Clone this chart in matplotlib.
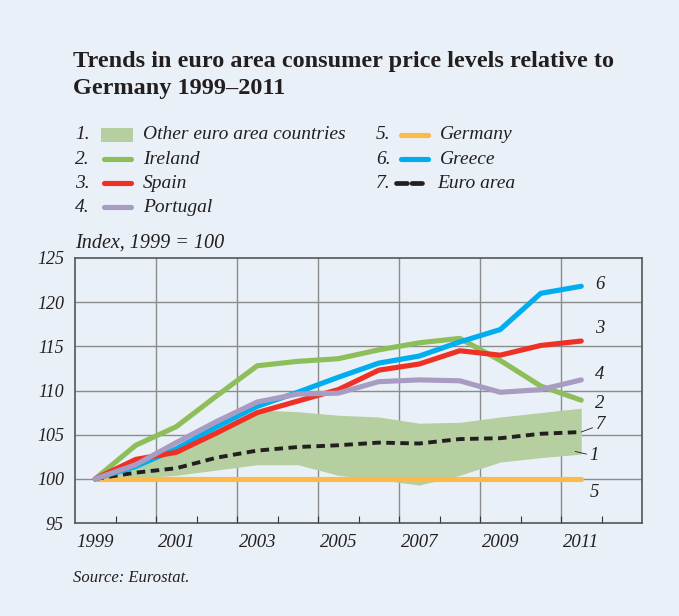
import matplotlib
matplotlib.use("Agg")
import matplotlib.pyplot as plt
from matplotlib.lines import Line2D
from matplotlib.patches import Rectangle

# Data (index, 1999 = 100)
years = [1999, 2000, 2001, 2002, 2003, 2004, 2005, 2006, 2007, 2008, 2009, 2010, 2011]
ireland = [100, 103.8, 105.9, 109.4, 112.8, 113.3, 113.6, 114.6, 115.4, 115.9, 113.4, 110.5, 108.9]
spain = [100, 102.2, 103.0, 105.2, 107.5, 108.8, 110.1, 112.3, 113.0, 114.5, 114.0, 115.1, 115.6]
portugal = [100, 101.6, 104.1, 106.5, 108.7, 109.6, 109.7, 111.0, 111.2, 111.1, 109.8, 110.1, 111.2]
germany = [100, 100, 100, 100, 100, 100, 100, 100, 100, 100, 100, 100, 100]
greece = [100, 101.4, 103.4, 105.9, 108.2, 109.8, 111.5, 113.1, 113.9, 115.5, 116.9, 121.0, 121.8]
euro_area = [100, 100.7, 101.2, 102.4, 103.2, 103.6, 103.8, 104.1, 104.0, 104.5, 104.6, 105.1, 105.3]
others_high = [100, 101.8, 103.6, 105.8, 107.8, 107.6, 107.2, 107.0, 106.3, 106.4, 107.0, 107.5, 108.0]
others_low = [100, 100.1, 100.4, 101.0, 101.6, 101.6, 100.4, 99.9, 99.3, 100.4, 101.9, 102.4, 102.8]

legend_labels = ["Other euro area countries", "Ireland", "Spain", "Portugal",
                 "Germany", "Greece", "Euro area"]
year_ticks = [1999, 2001, 2003, 2005, 2007, 2009, 2011]
value_ticks = [95, 100, 105, 110, 115, 120, 125]

bg = "#e9f0f7"
c_band = "#b5cfa0"
c_ireland = "#8dbe5a"
c_spain = "#ee3124"
c_portugal = "#a89cc2"
c_germany = "#fdb94a"
c_greece = "#00aeef"
c_euro = "#231f20"
txt = "#231f20"

plt.rcParams["font.family"] = ["Liberation Serif", "DejaVu Serif"]

W, H = 679, 616
fig = plt.figure(figsize=(W / 100, H / 100), dpi=100, facecolor=bg)


def fx(px):
    return px / W


def fy(py):
    return 1 - py / H


ax = fig.add_axes([fx(75), fy(523), fx(642) - fx(75), fy(258) - fy(523)])
ax.set_facecolor(bg)

ax.fill_between(years, others_low, others_high, color=c_band, lw=0, zorder=2)
lw = 3.7
ax.plot(years, germany, color=c_germany, lw=lw, solid_capstyle="round", zorder=3)
ax.plot(years, euro_area, color=c_euro, lw=2.8, dashes=(2.2, 1.4), zorder=4)
ax.plot(years, ireland, color=c_ireland, lw=lw, solid_capstyle="round", zorder=5)
ax.plot(years, greece, color=c_greece, lw=lw, solid_capstyle="round", zorder=5)
ax.plot(years, spain, color=c_spain, lw=lw, solid_capstyle="round", zorder=6)
ax.plot(years, portugal, color=c_portugal, lw=lw, solid_capstyle="round", zorder=7)

ax.set_xlim(1998.5, 2012.5)
ax.set_ylim(95, 125)
ax.set_yticks(value_ticks)
ax.set_yticklabels([str(v) for v in value_ticks], fontsize=13, style="italic", color=txt)
ax.set_xticks([y + 0.5 for y in range(1999, 2012)])
ax.set_xticklabels([])
ax.tick_params(axis="x", direction="in", length=5, width=0.8, color="#333333")
ax.tick_params(axis="y", length=0, pad=8)
for y in year_ticks:
    ax.text(y, 93.8, str(y), ha="center", va="top", fontsize=13.5, style="italic", color=txt)

# grid: horizontal at every value, vertical every two years
for v in value_ticks[1:-1]:
    ax.axhline(v, color="#8c8c8c", lw=1.0, zorder=1)
for g in [2000.5, 2002.5, 2004.5, 2006.5, 2008.5, 2010.5]:
    ax.axvline(g, color="#8c8c8c", lw=1.0, zorder=1)
for s in ax.spines.values():
    s.set_color("#555555")
    s.set_linewidth(1.2)

# end labels
lab = dict(fontsize=13.5, style="italic", color=txt, va="center", ha="left")
ax.text(2011.35, 122.0, "6", **lab)
ax.text(2011.35, 117.0, "3", **lab)
ax.text(2011.35, 111.8, "4", **lab)
ax.text(2011.35, 108.5, "2", **lab)
ax.annotate("7", xy=(2011.0, 105.3), xytext=(2011.35, 106.1), ha="left", va="center",
            fontsize=13.5, style="italic", color=txt,
            arrowprops=dict(arrowstyle="-", lw=0.6, color=txt, shrinkA=0, shrinkB=0))
ax.annotate("1", xy=(2010.85, 103.1), xytext=(2011.2, 102.6), ha="left", va="center",
            fontsize=13.5, style="italic", color=txt,
            arrowprops=dict(arrowstyle="-", lw=0.6, color=txt, shrinkA=0, shrinkB=0))
ax.text(2011.2, 98.4, "5", **lab)

# title and notes
fig.text(fx(73), fy(94), "Trends in euro area consumer price levels relative to\nGermany 1999\u20132011",
         fontsize=17.5, fontweight="bold", color=txt, va="baseline", ha="left", linespacing=1.38)
fig.text(fx(75), fy(243), "Index, 1999 = 100", fontsize=14.5, style="italic", color=txt, va="center")
fig.text(fx(73), fy(578), "Source: Eurostat.", fontsize=12, style="italic", color=txt, va="center")

# legend
rows = [135, 159, 183, 207]
legend_items = [
    (75, rows[0], "1.", "band", c_band),
    (75, rows[1], "2.", "line", c_ireland),
    (75, rows[2], "3.", "line", c_spain),
    (75, rows[3], "4.", "line", c_portugal),
    (376, rows[0], "5.", "line", c_germany),
    (376, rows[1], "6.", "line", c_greece),
    (376, rows[2], "7.", "dash", c_euro),
]
for (x0, y0, num, kind, col), name in zip(legend_items, legend_labels):
    fig.text(fx(x0), fy(y0), num, fontsize=14, style="italic", color=txt, va="center")
    if kind == "band":
        fig.add_artist(Rectangle((fx(101), fy(y0 + 7)), fx(32), fy(y0 - 7) - fy(y0 + 7),
                                 transform=fig.transFigure, color=col, lw=0))
        tx = 143
    elif kind == "line":
        xs = (104, 131) if x0 == 75 else (401, 428)
        fig.add_artist(Line2D([fx(xs[0]), fx(xs[1])], [fy(y0), fy(y0)], transform=fig.transFigure,
                              color=col, lw=lw, solid_capstyle="round"))
        tx = 143 if x0 == 75 else 440
    else:
        fig.add_artist(Line2D([fx(396), fx(422)], [fy(y0), fy(y0)], transform=fig.transFigure,
                              color=col, lw=3.4, dashes=(2.3, 1.0), dash_capstyle="round"))
        tx = 437
    fig.text(fx(tx), fy(y0), name, fontsize=14, style="italic", color=txt, va="center")

fig.savefig("out.png", dpi=100, facecolor=bg)
